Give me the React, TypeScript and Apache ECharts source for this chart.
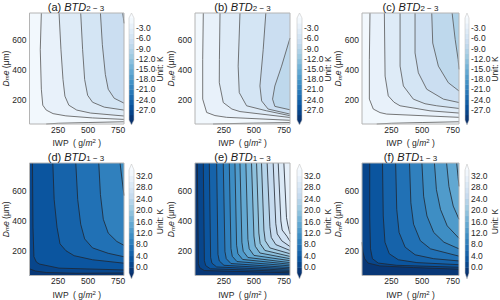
import React, { useEffect, useRef } from 'react';
import * as echarts from 'echarts';

type Pt = [number, number];

// ---- axes ----
const X_RANGE: Pt = [10, 800];
const Y_RANGE: Pt = [35, 785];
const xTicks = [250, 500, 750];
const yTicks = [200, 400, 600];

// ---- colour-bar levels / ticks ----
const levelsTop = [-30, -28.5, -27, -25.5, -24, -22.5, -21, -19.5, -18, -16.5, -15, -13.5, -12, -10.5, -9, -7.5, -6, -4.5, -3, -1.5, 0];
const ticksTop = [-27, -24, -21, -18, -15, -12, -9, -6, -3];
const levelsBottom = [-2, 0, 2, 4, 6, 8, 10, 12, 14, 16, 18, 20, 22, 24, 26, 28, 30, 32, 34];
const ticksBottom = [0, 4, 8, 12, 16, 20, 24, 28, 32];

// ---- panel titles ----
const tags = ['(a)', '(b)', '(c)', '(d)', '(e)', '(f)'];
const subs = ['2 − 3', '2 − 3', '2 − 3', '1 − 3', '1 − 3', '1 − 3'];

// ---- contour lines [IWP, Dme]; fill = value of region left of travel ----
const baseA = -0.75;
const fillsA = [0.75, -2.25, -3.75, -5.25, -6.75, -8.25];
const linesA: Pt[][] = [
  [[800, 50], [500, 45], [250, 40], [150, 35]],
  [[109, 785], [100, 537], [109, 270], [121, 162], [150, 129], [207, 105], [314, 90], [537, 76], [800, 66]],
  [[257, 785], [273, 537], [290, 336], [306, 223], [339, 162], [405, 129], [520, 109], [800, 89]],
  [[438, 785], [454, 537], [471, 336], [496, 229], [537, 182], [635, 149], [800, 129]],
  [[603, 785], [619, 571], [644, 370], [668, 270], [718, 209], [800, 176]],
  [[789, 785], [795, 750], [800, 715]],
];

const baseB = -0.75;
const fillsB = [0.75, -2.25, -3.75, -5.25, -6.75, -8.25];
const linesB: Pt[][] = [
  [[800, 45], [500, 41], [250, 37], [160, 35]],
  [[79, 785], [74, 470], [74, 203], [107, 113], [176, 92], [273, 80], [800, 60]],
  [[218, 785], [213, 470], [212, 314], [245, 180], [317, 136], [384, 119], [800, 79]],
  [[384, 785], [369, 426], [378, 247], [439, 158], [605, 124], [800, 91]],
  [[599, 785], [577, 537], [550, 292], [564, 191], [618, 136], [800, 102]],
  [[800, 616], [730, 426], [674, 292], [655, 203], [674, 154], [800, 131]],
];

const baseC = -0.75;
const fillsC = [0.75, -2.25, -3.75, -5.25, -6.75, -8.25, -9.75];
const linesC: Pt[][] = [
  [[800, 50], [500, 45], [250, 40], [130, 35]],
  [[75, 785], [70, 470], [70, 203], [102, 136], [157, 112], [211, 102], [800, 80]],
  [[192, 785], [198, 359], [224, 225], [271, 182], [320, 158], [564, 124], [800, 109]],
  [[320, 785], [320, 426], [347, 292], [428, 203], [523, 172], [619, 158], [800, 140]],
  [[442, 785], [442, 515], [469, 381], [537, 270], [673, 203], [800, 180]],
  [[578, 785], [586, 582], [632, 426], [713, 314], [800, 258]],
  [[744, 785], [769, 605], [793, 471], [800, 404]],
];

const baseD = 1;
const fillsD = [-1, 3, 5, 7, 9, 11];
const linesD: Pt[][] = [
  [[800, 52], [400, 50], [150, 55], [60, 65], [10, 80]],
  [[35, 785], [39, 357], [47, 160], [68, 124], [95, 111], [257, 84], [800, 72]],
  [[205, 785], [216, 542], [240, 357], [265, 246], [315, 200], [383, 167], [537, 140], [800, 117]],
  [[397, 785], [413, 542], [438, 377], [471, 279], [537, 219], [668, 183], [800, 160]],
  [[589, 785], [603, 575], [627, 410], [668, 318], [740, 262], [800, 236]],
  [[767, 785], [784, 673], [800, 568]],
];

const baseE = -1;
const fillsE = [1, 3, 5, 7, 9, 11, 13, 15, 17, 19, 21, 23, 25, 27, 29, 31];
const linesE: Pt[][] = [
  [[29, 785], [38, 114], [49, 87], [88, 68], [800, 53]],
  [[79, 785], [88, 134], [99, 101], [137, 80], [800, 62]],
  [[129, 785], [140, 156], [151, 117], [190, 92], [800, 70]],
  [[190, 785], [201, 176], [212, 132], [251, 103], [800, 79]],
  [[245, 785], [259, 195], [270, 147], [309, 115], [800, 88]],
  [[295, 785], [309, 215], [320, 163], [359, 128], [800, 99]],
  [[342, 785], [356, 237], [367, 180], [406, 142], [800, 110]],
  [[384, 785], [400, 257], [411, 196], [450, 155], [800, 121]],
  [[433, 785], [450, 276], [461, 213], [500, 169], [800, 134]],
  [[480, 785], [500, 298], [511, 230], [550, 185], [800, 147]],
  [[522, 785], [541, 318], [552, 248], [591, 202], [800, 162]],
  [[563, 785], [583, 338], [594, 267], [633, 219], [800, 180]],
  [[610, 785], [633, 360], [644, 289], [682, 241], [800, 202]],
  [[660, 785], [682, 380], [694, 312], [732, 266], [800, 228]],
  [[702, 785], [724, 399], [735, 338], [774, 297], [800, 263]],
  [[749, 785], [771, 421], [782, 372], [800, 312]],
];

const baseF = -1;
const fillsF = [1, 3, 5, 7, 9, 11, 13, 15, 17];
const linesF: Pt[][] = [
  [[10, 257], [18, 191], [32, 147], [59, 118], [155, 99], [430, 88], [800, 77]],
  [[73, 785], [73, 432], [79, 213], [95, 147], [142, 118], [293, 103], [800, 90]],
  [[177, 785], [183, 432], [197, 257], [232, 180], [306, 140], [457, 121], [800, 107]],
  [[284, 785], [293, 476], [312, 322], [361, 224], [443, 173], [594, 147], [800, 132]],
  [[397, 785], [408, 520], [430, 377], [485, 267], [567, 213], [800, 164]],
  [[498, 785], [512, 564], [539, 432], [594, 322], [677, 257], [800, 213]],
  [[600, 785], [616, 607], [649, 476], [704, 366], [800, 283]],
  [[699, 785], [718, 629], [753, 498], [800, 410]],
  [[781, 785], [792, 695], [800, 629]],
];

// ---- styling / layout ----
const FONT = "'Liberation Sans', Arial, Helvetica, sans-serif";
const TXT = '#262626';
const PLOT_LEFT = [28, 195, 362];
const PLOT_W = [96, 95, 97];
const CB_LEFT = [129, 297, 465];
const CB_W = 5;
const ROWS = [
  { top: 13, h: 111, cbTop: 18, cbH: 102, ext: 5, lv: levelsTop, ticks: ticksTop, line: '#555555', titleY: 7, nameGap: 14 },
  { top: 163, h: 114, cbTop: 170, cbH: 103, ext: 6, lv: levelsBottom, ticks: ticksBottom, line: '#1f2630', titleY: 157, nameGap: 14.5 },
];

const panels = [
  { lines: linesA, fills: fillsA, base: baseA, row: 0, col: 0 },
  { lines: linesB, fills: fillsB, base: baseB, row: 0, col: 1 },
  { lines: linesC, fills: fillsC, base: baseC, row: 0, col: 2 },
  { lines: linesD, fills: fillsD, base: baseD, row: 1, col: 0 },
  { lines: linesE, fills: fillsE, base: baseE, row: 1, col: 1 },
  { lines: linesF, fills: fillsF, base: baseF, row: 1, col: 2 },
];

const BLUES = ['#f7fbff', '#deebf7', '#c6dbef', '#9ecae1', '#6baed6', '#4292c6', '#2171b5', '#08519c', '#08306b'];
function hex(h: string) {
  return [parseInt(h.slice(1, 3), 16), parseInt(h.slice(3, 5), 16), parseInt(h.slice(5, 7), 16)];
}
function blues(t: number) {
  const u = Math.min(1, Math.max(0, t)) * (BLUES.length - 1);
  const i = Math.min(BLUES.length - 2, Math.floor(u));
  const f = u - i;
  const a = hex(BLUES[i]), b = hex(BLUES[i + 1]);
  const c = a.map((v, j) => Math.round(v + (b[j] - v) * f));
  return `rgb(${c[0]},${c[1]},${c[2]})`;
}
function colorFor(v: number, lv: number[]) {
  const lo = lv[0], hi = lv[lv.length - 1];
  return blues(1 - (v - lo) / (hi - lo));
}

function perim(p: Pt) {
  const [x, y] = p;
  const [x0, x1] = X_RANGE;
  const [y0, y1] = Y_RANGE;
  const W = x1 - x0, H = y1 - y0, e = 0.5;
  if (Math.abs(y - y1) < e) return (x - x0) / W;
  if (Math.abs(x - x1) < e) return 1 + (y1 - y) / H;
  if (Math.abs(y - y0) < e) return 2 + (x1 - x) / W;
  return 3 + (y - y0) / H;
}
function closure(start: Pt, end: Pt): Pt[] {
  const s0 = perim(start), e = perim(end);
  const d = (((e - s0) % 4) + 4) % 4;
  const corners: Pt[] = [
    [X_RANGE[0], Y_RANGE[1]], [X_RANGE[1], Y_RANGE[1]], [X_RANGE[1], Y_RANGE[0]], [X_RANGE[0], Y_RANGE[0]],
  ];
  const list: { dc: number; p: Pt }[] = [];
  for (let c = 0; c < 4; c++) {
    const dc = (((e - c) % 4) + 4) % 4;
    if (dc > 1e-9 && dc < d - 1e-9) list.push({ dc, p: corners[c] });
  }
  list.sort((a, b) => a.dc - b.dc);
  return list.map((o) => o.p);
}

function contourRender(panel: any) {
  const row = ROWS[panel.row];
  return (_params: any, api: any) => {
    const k = api.value(0);
    if (k === 0) {
      const a = api.coord([X_RANGE[0], Y_RANGE[1]]);
      const b = api.coord([X_RANGE[1], Y_RANGE[0]]);
      const shape = { x: a[0], y: a[1], width: b[0] - a[0], height: b[1] - a[1] };
      return {
        type: 'group',
        children: [
          { type: 'rect', shape, style: { fill: colorFor(panel.base, row.lv) }, z2: 0 },
          { type: 'rect', shape, style: { fill: 'none', stroke: '#b4b4b4', lineWidth: 1 }, z2: 200 },
        ],
      };
    }
    const line: Pt[] = panel.lines[k - 1];
    const pts = line.map((p) => api.coord(p));
    const poly = pts.concat(closure(line[0], line[line.length - 1]).map((p) => api.coord(p)));
    return {
      type: 'group',
      children: [
        { type: 'polygon', shape: { points: poly }, style: { fill: colorFor(panel.fills[k - 1], row.lv) }, z2: k },
        { type: 'polyline', shape: { points: pts }, style: { fill: 'none', stroke: row.line, lineWidth: 0.8 }, z2: 100 },
      ],
    };
  };
}

function colorbarRender(rowIdx: number) {
  const row = ROWS[rowIdx];
  const lv = row.lv;
  const n = lv.length - 1;
  return (_params: any, api: any) => {
    const k = api.value(0);
    if (k < n) {
      const a = api.coord([0, lv[k + 1]]);
      const b = api.coord([1, lv[k]]);
      return {
        type: 'rect',
        shape: { x: a[0], y: a[1], width: b[0] - a[0], height: b[1] - a[1] + 0.4 },
        style: { fill: colorFor((lv[k] + lv[k + 1]) / 2, lv) },
        z2: 1,
      };
    }
    const tl = api.coord([0, lv[n]]), tr = api.coord([1, lv[n]]);
    const bl = api.coord([0, lv[0]]), br = api.coord([1, lv[0]]);
    const apT = [(tl[0] + tr[0]) / 2, tl[1] - row.ext];
    const apB = [(bl[0] + br[0]) / 2, bl[1] + row.ext];
    if (k === n) {
      return { type: 'polygon', shape: { points: [tl, tr, apT] }, style: { fill: blues(0) }, z2: 1 };
    }
    if (k === n + 1) {
      return { type: 'polygon', shape: { points: [bl, br, apB] }, style: { fill: blues(1) }, z2: 1 };
    }
    return {
      type: 'polygon',
      shape: { points: [apT, tr, br, apB, bl, tl] },
      style: { fill: 'none', stroke: '#c8c8c8', lineWidth: 0.6 },
      z2: 5,
    };
  };
}

function buildOption() {
  const grid: any[] = [];
  const xAxis: any[] = [];
  const yAxis: any[] = [];
  const series: any[] = [];
  const graphic: any[] = [];
  const subRich = {
    i: { fontStyle: 'italic', fontSize: 8.5, color: TXT, fontFamily: FONT },
    s: { fontStyle: 'italic', fontSize: 6, color: TXT, fontFamily: FONT, verticalAlign: 'bottom', lineHeight: 6 },
    p: { fontSize: 6, color: TXT, fontFamily: FONT, verticalAlign: 'top', lineHeight: 6 },
  };
  panels.forEach((p, i) => {
    const row = ROWS[p.row];
    const g = grid.length;
    grid.push({ left: PLOT_LEFT[p.col], top: row.top, width: PLOT_W[p.col], height: row.h });
    grid.push({ left: CB_LEFT[p.col], top: row.cbTop, width: CB_W, height: row.cbH });
    xAxis.push({
      gridIndex: g, type: 'value', min: X_RANGE[0], max: X_RANGE[1],
      axisLine: { show: false }, axisTick: { show: false }, splitLine: { show: false },
      axisLabel: { customValues: xTicks, fontSize: 8.5, color: TXT, fontFamily: FONT, margin: 1 },
      name: 'IWP  ( g/{i|m}{p|2} )', nameLocation: 'middle', nameGap: row.nameGap, nameMoveOverlap: false,
      nameTextStyle: { fontSize: 8.5, color: TXT, fontFamily: FONT, rich: subRich },
    });
    xAxis.push({ gridIndex: g + 1, type: 'value', min: 0, max: 1, show: false });
    yAxis.push({
      gridIndex: g, type: 'value', min: Y_RANGE[0], max: Y_RANGE[1],
      axisLine: { show: false }, axisTick: { show: false }, splitLine: { show: false },
      axisLabel: { customValues: yTicks, fontSize: 8.5, color: TXT, fontFamily: FONT, margin: 3 },
      name: '{i|D}{s|m}{i|e} (μm)', nameLocation: 'middle', nameGap: 19.5, nameRotate: 90, nameMoveOverlap: false,
      nameTextStyle: { fontSize: 8.5, color: TXT, fontFamily: FONT, rich: subRich },
    });
    yAxis.push({
      gridIndex: g + 1, type: 'value', position: 'right', min: row.lv[0], max: row.lv[row.lv.length - 1],
      axisLine: { show: false }, axisTick: { show: false }, splitLine: { show: false },
      axisLabel: {
        customValues: row.ticks, fontSize: 8.5, color: TXT, fontFamily: FONT, margin: 2,
        formatter: (v: number) => v.toFixed(1),
      },
      name: 'Unit: K', nameLocation: 'middle', nameGap: 21, nameRotate: 90, nameMoveOverlap: false,
      nameTextStyle: { fontSize: 8.5, color: TXT, fontFamily: FONT },
    });
    series.push({
      type: 'custom', xAxisIndex: g, yAxisIndex: g, silent: true,
      data: [0, ...p.lines.map((_, k) => k + 1)].map((k) => [k, 0]),
      renderItem: contourRender(p),
    });
    const nb = row.lv.length - 1;
    series.push({
      type: 'custom', xAxisIndex: g + 1, yAxisIndex: g + 1, silent: true,
      data: Array.from({ length: nb + 3 }, (_, k) => [k, 0]),
      renderItem: colorbarRender(p.row),
    });
    graphic.push({
      type: 'text', x: PLOT_LEFT[p.col] + PLOT_W[p.col] / 2, y: row.titleY, z: 10,
      style: {
        text: `${tags[i]} {i|BTD}{s|${subs[i]}}`,
        fontSize: 11, fontFamily: FONT, fill: '#1a1a1a', align: 'center', verticalAlign: 'middle',
        rich: {
          i: { fontStyle: 'italic', fontSize: 11, fontFamily: FONT, fill: '#1a1a1a' },
          s: { fontSize: 8, fontFamily: FONT, fill: '#1a1a1a', verticalAlign: 'bottom', lineHeight: 8 },
        },
      },
    });
  });
  return { animation: false, backgroundColor: '#ffffff', grid, xAxis, yAxis, series, graphic };
}

export default function App() {
  const ref = useRef<HTMLDivElement>(null);
  useEffect(() => {
    const chart = echarts.init(ref.current!, null, { renderer: 'svg' });
    chart.setOption(buildOption() as any);
    return () => chart.dispose();
  }, []);
  return <div ref={ref} style={{ position: 'fixed', left: 0, top: 0, width: 500, height: 300 }} />;
}
